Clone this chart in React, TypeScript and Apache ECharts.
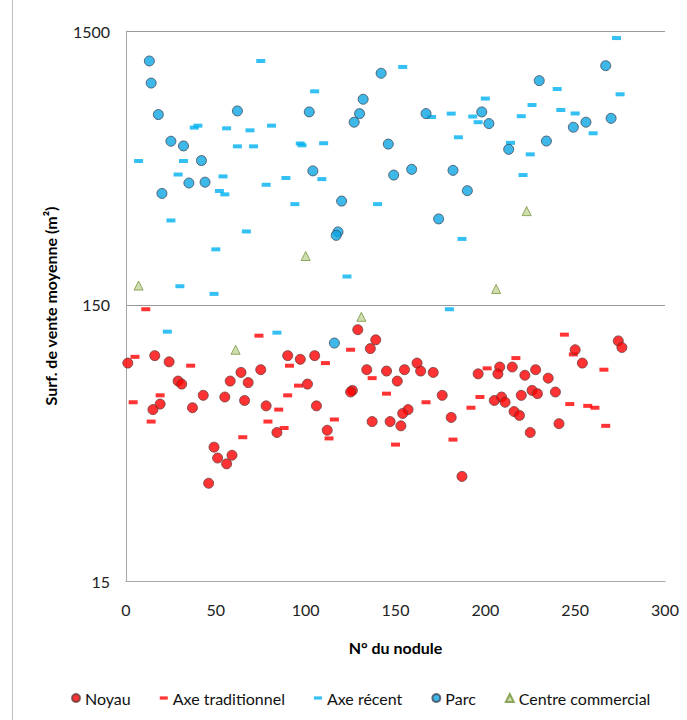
import React, { useEffect, useRef } from "react";
import * as echarts from "echarts";

// N° du nodule, surface de vente moyenne (m²)
const noyau: [number, number][] = [
  [1, 93], [16, 99], [24, 94], [29, 80], [31, 78], [43, 71], [55, 70], [58, 80], [64, 86], [68, 79],
  [75, 88], [90, 99], [97, 96], [101, 78], [66, 68], [78, 65], [19, 66], [15, 63], [37, 64], [84, 52],
  [49, 46], [51, 42], [59, 43], [56, 40], [46, 34], [105, 99], [129, 123], [139, 113], [136, 105], [134, 88],
  [145, 87], [155, 88], [162, 93], [164, 87], [171, 86], [151, 80], [126, 74], [125, 73], [106, 65], [176, 71],
  [157, 63], [154, 61], [137, 57], [147, 57], [153, 55], [181, 59], [196, 85], [112, 53], [187, 36], [208, 90],
  [207, 85], [215, 90], [222, 84], [228, 88], [235, 82], [250, 104], [254, 93], [274, 112], [276, 106], [205, 68],
  [209, 70], [211, 67], [220, 71], [226, 74], [229, 72], [239, 73], [216, 62], [219, 60], [241, 56], [225, 52],
];

const axeTraditionnel: [number, number][] = [
  [11, 146], [74, 117], [5, 98], [36, 91], [91, 91], [19, 71], [4, 67], [90, 71], [96, 77], [85, 63],
  [14, 57], [79, 57], [65, 50], [88, 54], [125, 104], [111, 93], [137, 82], [145, 72], [167, 67], [116, 58],
  [113, 49.5], [150, 47], [182, 49], [192, 64], [197, 70], [201, 89], [244, 118], [217, 97], [249, 100], [266, 88],
  [247, 66], [257, 65], [261, 64], [267, 55],
];

const axeRecent: [number, number][] = [
  [75, 1167], [38, 668], [40, 679], [56, 664], [69, 653], [81, 679], [62, 571], [71, 571], [97, 585], [98, 576],
  [7, 505], [32, 505], [154, 1110], [105, 905], [170, 730], [181, 751], [193, 733], [196, 699], [200, 852], [185, 616],
  [110, 586], [273, 1414], [240, 923], [275, 883], [226, 807], [242, 774], [250, 752], [220, 735], [260, 637], [214, 588],
  [225, 534], [29, 451], [54, 444], [52, 393], [55, 382], [78, 414], [89, 438], [94, 352], [25, 307], [67, 280],
  [50, 241], [30, 177], [49, 166], [109, 434], [140, 352], [187, 263], [123, 192], [180, 146], [221, 449], [23, 121],
  [84, 120],
];

const parc: [number, number][] = [
  [13, 1167], [14, 970], [18, 745], [62, 768], [102, 762], [25, 596], [32, 573], [42, 507], [142, 1053], [132, 847],
  [130, 751], [127, 699], [167, 751], [198, 762], [202, 691], [146, 582], [104, 465], [159, 471], [182, 467], [230, 990],
  [267, 1122], [270, 722], [249, 670], [256, 699], [234, 597], [213, 557], [35, 420], [44, 423], [20, 385], [149, 449],
  [190, 394], [120, 361], [174, 311], [118, 279], [117, 271], [116, 110],
];

const centreCommercial: [number, number][] = [
  [7, 178], [100, 228], [61, 104], [131, 137], [223, 332], [206, 173],
];

const seriesNames = ["Noyau", "Axe traditionnel", "Axe récent", "Parc", "Centre commercial"];
const xTicks = { min: 0, max: 300, interval: 50 };
const yTicks = { min: 15, max: 1500 };

const FONT = "Lato, 'Noto Sans', sans-serif";
const DASH = "path://M0,0h10v4h-10z";

export default function App() {
  const ref = useRef<HTMLDivElement>(null);
  useEffect(() => {
    if (!ref.current) return;
    const chart = echarts.init(ref.current, undefined, { renderer: "svg" });
    const option: echarts.EChartsOption = {
      animation: false,
      backgroundColor: "#ffffff",
      textStyle: { fontFamily: FONT },
      grid: { left: 126, right: 22, top: 31, bottom: 139, containLabel: false },
      xAxis: {
        type: "value",
        min: xTicks.min,
        max: xTicks.max,
        interval: xTicks.interval,
        name: "N° du nodule",
        nameLocation: "middle",
        nameGap: 58,
        nameTextStyle: { fontFamily: FONT, fontSize: 16, fontWeight: "bold", color: "#000" },
        axisLine: { show: true, onZero: false, lineStyle: { color: "#a6a6a6", width: 1 } },
        axisTick: { show: false },
        splitLine: { show: false },
        axisLabel: { fontFamily: FONT, fontSize: 16, color: "#222", margin: 20 },
      },
      yAxis: {
        type: "log",
        logBase: 10,
        min: yTicks.min,
        max: yTicks.max,
        interval: 1,
        name: "Surf. de vente moyenne (m²)",
        nameLocation: "middle",
        nameGap: 68,
        nameTextStyle: { fontFamily: FONT, fontSize: 16, fontWeight: "bold", color: "#000" },
        axisLine: { show: true, lineStyle: { color: "#a6a6a6", width: 1 } },
        axisTick: { show: false },
        minorTick: { show: false },
        splitLine: { show: true, lineStyle: { color: "#9a9a9a", width: 1 } },
        axisLabel: {
          fontFamily: FONT,
          fontSize: 16,
          color: "#222",
          margin: 16,
          formatter: (v: number) => String(Number(v.toPrecision(2))),
        },
      },
      legend: {
        left: 66,
        top: 685,
        itemWidth: 8,
        itemHeight: 8,
        itemGap: 29,
        symbolKeepAspect: true,
        textStyle: { fontFamily: FONT, fontSize: 16, color: "#111" },
        data: [
          { name: seriesNames[0], icon: "circle" },
          { name: seriesNames[1], icon: DASH },
          { name: seriesNames[2], icon: DASH },
          { name: seriesNames[3], icon: "circle" },
          { name: seriesNames[4], icon: "triangle" },
        ],
      },
      series: [
        {
          name: seriesNames[2],
          type: "scatter",
          data: axeRecent,
          symbol: "rect",
          symbolSize: [9, 4],
          itemStyle: { color: "#00b0f0" },
        },
        {
          name: seriesNames[1],
          type: "scatter",
          data: axeTraditionnel,
          symbol: "rect",
          symbolSize: [9, 4],
          itemStyle: { color: "#ff0000" },
        },
        {
          name: seriesNames[4],
          type: "scatter",
          data: centreCommercial,
          symbol: "triangle",
          symbolSize: 9,
          itemStyle: { color: "#c3d69b", borderColor: "#77933c", borderWidth: 1 },
        },
        {
          name: seriesNames[3],
          type: "scatter",
          data: parc,
          symbol: "circle",
          symbolSize: 10,
          itemStyle: { color: "#0ea5e4", borderColor: "#3d4a5a", borderWidth: 1 },
        },
        {
          name: seriesNames[0],
          type: "scatter",
          data: noyau,
          symbol: "circle",
          symbolSize: 10,
          itemStyle: { color: "#ff0000", borderColor: "#6b3a3a", borderWidth: 1 },
        },
      ],
    };
    chart.setOption(option);
    return () => chart.dispose();
  }, []);

  return (
    <div style={{ position: "fixed", left: 0, top: 0, width: 687, height: 720, background: "#fff" }}>
      <div ref={ref} style={{ position: "absolute", left: 0, top: 0, width: 687, height: 720 }} />
      <div
        style={{
          position: "absolute",
          left: 12,
          top: 0,
          width: 0,
          height: 720,
          borderLeft: "1px solid #bdbdbd",
          pointerEvents: "none",
        }}
      />
    </div>
  );
}
